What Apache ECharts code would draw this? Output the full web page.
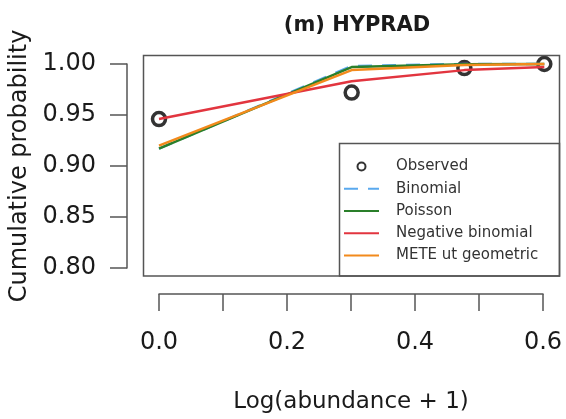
<!DOCTYPE html>
<html>
<head>
<meta charset="utf-8">
<script src="https://cdn.jsdelivr.net/npm/echarts@6/dist/echarts.min.js"></script>
<style>
html,body{margin:0;padding:0;background:#fff;}
#chart{width:566px;height:419px;}
</style>
</head>
<body>
<div id="chart"></div>
<script>
// Data
const xValues = [0, 0.30103, 0.47712, 0.60206];          // log10(abundance + 1)
const observed = [0.946, 0.972, 0.996, 1.0];
const binomial = [0.917, 0.998, 1.0, 1.0];
const poisson = [0.917, 0.997, 0.9998, 1.0];
const negBinomial = [0.946, 0.983, 0.994, 0.997];
const meteGeometric = [0.920, 0.994, 0.999, 1.0];
const seriesNames = ['Observed', 'Binomial', 'Poisson', 'Negative binomial', 'METE ut geometric'];
const xTickLabels = ['0.0', '0.1', '0.2', '0.3', '0.4', '0.5', '0.6'];
const yTickLabels = ['0.80', '0.85', '0.90', '0.95', '1.00'];
const titleText = '(m) HYPRAD';

const FONT = 'DejaVu Sans';
const pair = arr => xValues.map((x, i) => [x, arr[i]]);

const chart = echarts.init(document.getElementById('chart'), null, {renderer: 'canvas'});

function lineSeries(name, data, color, dashed) {
  return {
    name: name,
    type: 'line',
    data: pair(data),
    symbol: 'none',
    showSymbol: false,
    clip: false,
    lineStyle: {color: color, width: 2.5, type: dashed ? [14, 10] : 'solid'},
    itemStyle: {color: color},
    z: 3
  };
}

chart.setOption({
  animation: false,
  backgroundColor: '#fff',
  textStyle: {fontFamily: FONT},
  title: {
    text: titleText,
    left: 352,
    top: 10,
    textAlign: 'center',
    textStyle: {fontFamily: FONT, fontWeight: 'bold', fontSize: 21, color: '#1a1a1a'}
  },
  grid: {left: 159, top: 64, width: 384, height: 204, containLabel: false, outerBoundsMode: 'none'},
  xAxis: {
    type: 'value',
    min: 0, max: 0.6, interval: 0.1,
    offset: 26,
    name: 'Log(abundance + 1)',
    nameLocation: 'middle',
    nameGap: 97,
    nameTextStyle: {fontFamily: FONT, fontSize: 23, color: '#1a1a1a'},
    axisLine: {show: true, onZero: false, lineStyle: {color: '#555', width: 1.5}},
    axisTick: {show: true, inside: false, length: 17, lineStyle: {color: '#555', width: 1.5}},
    axisLabel: {
      margin: 37, fontFamily: FONT, fontSize: 24, color: '#1a1a1a',
      formatter: v => { const i = Math.round(v * 10); return i % 2 === 0 ? xTickLabels[i] : ''; }
    },
    splitLine: {show: false}
  },
  yAxis: {
    type: 'value',
    min: 0.8, max: 1.0, interval: 0.05,
    offset: 32,
    name: 'Cumulative probability',
    nameLocation: 'middle',
    nameGap: 86,
    nameTextStyle: {fontFamily: FONT, fontSize: 24, color: '#1a1a1a'},
    axisLine: {show: true, onZero: false, lineStyle: {color: '#555', width: 1.5}},
    axisTick: {show: true, inside: false, length: 17, lineStyle: {color: '#555', width: 1.5}},
    axisLabel: {
      margin: 31, fontFamily: FONT, fontSize: 24, color: '#1a1a1a',
      formatter: v => yTickLabels[Math.round((v - 0.8) / 0.05)]
    },
    splitLine: {show: false}
  },
  legend: {
    orient: 'vertical',
    left: 343,
    top: 159,
    itemWidth: 35,
    itemHeight: 8,
    itemGap: 7.25,
    padding: 0,
    textStyle: {fontFamily: FONT, fontSize: 15, color: '#333', padding: [0, 0, 0, 12]},
    data: [
      {name: seriesNames[0], icon: 'circle', itemStyle: {color: '#fff', borderColor: '#000', borderWidth: 2}},
      {name: seriesNames[1], itemStyle: {opacity: 0}},
      {name: seriesNames[2], itemStyle: {opacity: 0}},
      {name: seriesNames[3], itemStyle: {opacity: 0}},
      {name: seriesNames[4], itemStyle: {opacity: 0}}
    ]
  },
  graphic: [
    {type: 'rect', silent: true, z: 10,
     shape: {x: 143.5, y: 55.5, width: 416, height: 220.5},
     style: {fill: 'none', stroke: '#555', lineWidth: 1.5}},
    {type: 'rect', silent: true, z: 10,
     shape: {x: 339.5, y: 143.5, width: 220, height: 132.5},
     style: {fill: 'none', stroke: '#555', lineWidth: 1.5}}
  ],
  series: [
    {
      name: seriesNames[0],
      type: 'scatter',
      data: pair(observed),
      symbol: 'circle',
      symbolSize: 13,
      clip: false,
      itemStyle: {color: '#fff', borderColor: '#000', borderWidth: 3.5},
      z: 2
    },
    lineSeries(seriesNames[1], binomial, '#5aa9ee', true),
    lineSeries(seriesNames[2], poisson, '#2a7f2a', false),
    lineSeries(seriesNames[3], negBinomial, '#e2353f', false),
    lineSeries(seriesNames[4], meteGeometric, '#f28a1c', false)
  ]
});
</script>
</body>
</html>
